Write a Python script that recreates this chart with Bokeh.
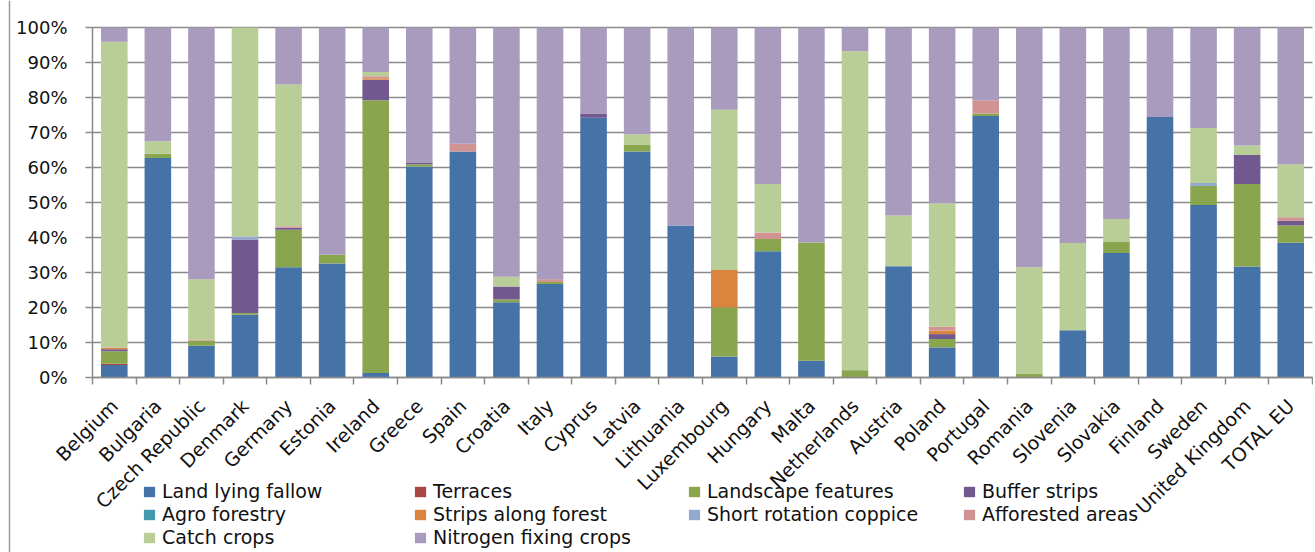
from bokeh.plotting import figure
from bokeh.models import (ColumnDataSource, Legend, LegendItem, FixedTicker, Range1d, Span)
from bokeh.embed import file_html
from bokeh.resources import INLINE

countries = ["Belgium", "Bulgaria", "Czech Republic", "Denmark", "Germany", "Estonia",
             "Ireland", "Greece", "Spain", "Croatia", "Italy", "Cyprus", "Latvia",
             "Lithuania", "Luxembourg", "Hungary", "Malta", "Netherlands", "Austria",
             "Poland", "Portugal", "Romania", "Slovenia", "Slovakia", "Finland",
             "Sweden", "United Kingdom", "TOTAL EU"]

land_lying_fallow = [3.6, 62.7, 9.1, 17.9, 31.5, 32.6, 1.3, 60.3, 64.6, 21.5, 26.7, 74.2, 64.6,
                     43.4, 6.0, 36.1, 4.8, 0.0, 31.8, 8.6, 74.7, 0.0, 13.5, 35.6, 74.4,
                     49.3, 31.7, 38.5]
terraces = [0.3, 0, 0, 0, 0, 0, 0, 0, 0, 0, 0, 0, 0, 0, 0, 0, 0, 0, 0, 0, 0, 0, 0, 0, 0, 0, 0, 0]
landscape_features = [3.6, 1.2, 1.4, 0.5, 10.7, 2.5, 77.9, 0.6, 0, 0.8, 0.6, 0, 2.0, 0, 14.0,
                      3.5, 33.8, 2.1, 0, 2.4, 0.7, 1.1, 0, 3.1, 0, 5.4, 23.6, 4.9]
buffer_strips = [0.6, 0, 0, 21.0, 0.6, 0, 5.9, 0.4, 0, 3.7, 0, 1.2, 0, 0, 0, 0, 0, 0, 0, 1.4,
                 0, 0, 0, 0, 0, 0, 8.3, 1.4]
agro_forestry = [0] * 28
strips_along_forest = [0.3, 0, 0, 0, 0, 0, 0.4, 0, 0, 0, 0, 0, 0, 0, 10.7, 0, 0, 0, 0, 1.0,
                       0, 0, 0, 0, 0, 0, 0, 0]
short_rotation_coppice = [0, 0, 0, 0.9, 0, 0, 0, 0, 0, 0, 0, 0, 0, 0, 0, 0, 0, 0, 0, 0, 0, 0,
                          0, 0, 0, 0.9, 0, 0]
afforested_areas = [0.2, 0, 0.3, 0, 0.4, 0, 0.6, 0, 2.2, 0, 0.8, 0, 0, 0, 0, 1.8, 0, 0, 0, 1.1,
                    3.8, 0, 0, 0, 0, 0, 0, 1.0]
catch_crops = [87.3, 3.6, 17.3, 59.7, 40.5, 0, 1.2, 0, 0, 2.8, 0, 0, 2.9, 0, 45.8, 13.9, 0,
               91.1, 14.5, 35.3, 0, 30.4, 24.9, 6.6, 0, 15.7, 2.7, 15.1]
nitrogen_fixing_crops = [4.1, 32.5, 71.9, 0.0, 16.3, 64.9, 12.7, 38.7, 33.2, 71.2, 71.9, 24.6,
                         30.5, 56.6, 23.5, 44.7, 61.4, 6.8, 53.7, 50.2, 20.8, 68.5, 61.6, 54.7,
                         25.6, 28.7, 33.7, 39.1]

series_names = ["Land lying fallow", "Terraces", "Landscape features", "Buffer strips",
                "Agro forestry", "Strips along forest", "Short rotation coppice",
                "Afforested areas", "Catch crops", "Nitrogen fixing crops"]
series_values = [land_lying_fallow, terraces, landscape_features, buffer_strips, agro_forestry,
                 strips_along_forest, short_rotation_coppice, afforested_areas, catch_crops,
                 nitrogen_fixing_crops]
colors = ["#4572A7", "#AA4643", "#89A54E", "#71588F", "#4198AF", "#DB843D", "#93A9CF",
          "#D19392", "#B9CD96", "#A99BBD"]
y_ticks = list(range(0, 101, 10))
y_tick_labels = [f"{t}%" for t in y_ticks]

n = len(countries)
keys = [f"s{i}" for i in range(len(series_names))]
data = {"x": [i + 0.5 for i in range(n)]}
for k, v in zip(keys, series_values):
    data[k] = v
source = ColumnDataSource(data)

FONT = "DejaVu Sans"
GRID = "#8a8a8a"

# Layout (pixels): the frame fills the whole figure; the value axis spans 350 px for 0..100,
# the category axis 1220 px for the 28 categories, with the axes pinned at x = 0 and y = 0.
FW, FH = 1313, 552
LEFT, TOP, PH, PW = 92, 27, 350, 1220
ppu_x = PW / n
ppu_y = PH / 100
x_range = Range1d(-LEFT / ppu_x, (FW - LEFT) / ppu_x)
y_range = Range1d(-(FH - TOP - PH) / ppu_y, 100 + TOP / ppu_y)

p = figure(output_backend="svg", toolbar_location=None,
           frame_width=FW, frame_height=FH,
           min_border_left=0, min_border_right=0, min_border_top=0, min_border_bottom=0,
           x_range=x_range, y_range=y_range)
p.outline_line_color = None
p.background_fill_color = "white"
p.xgrid.grid_line_color = None
p.ygrid.grid_line_color = None

# horizontal gridlines between the axes only
p.segment(x0=[0] * len(y_ticks), x1=[n] * len(y_ticks), y0=y_ticks, y1=y_ticks,
          line_color=GRID, line_width=1.5, level="underlay")

renderers = p.vbar_stack(keys, x="x", width=0.61, color=colors, line_color=None,
                         source=source)

# x axis: labels at category centres, tick marks between categories, drawn at y = 0
xa = p.xaxis[0]
xa.fixed_location = 0
xa.bounds = (0, n)
xa.ticker = FixedTicker(ticks=[i + 0.5 for i in range(n)], minor_ticks=list(range(n + 1)))
xa.major_label_overrides = {i + 0.5: c for i, c in enumerate(countries)}
xa.major_tick_line_color = None
xa.minor_tick_line_color = GRID
xa.minor_tick_line_width = 1.5
xa.minor_tick_out = 7
xa.minor_tick_in = 0
xa.axis_line_color = GRID
xa.axis_line_width = 1.5
xa.major_label_orientation = 0.785398
xa.major_label_standoff = 18
xa.major_label_text_font = FONT
xa.major_label_text_font_size = "19px"
xa.major_label_text_color = "#111111"

ya = p.yaxis[0]
ya.fixed_location = 0
ya.bounds = (0, 100)
ya.ticker = FixedTicker(ticks=y_ticks)
ya.major_label_overrides = {t: l for t, l in zip(y_ticks, y_tick_labels)}
ya.minor_tick_line_color = None
ya.major_tick_line_color = GRID
ya.major_tick_line_width = 1.5
ya.major_tick_out = 7
ya.major_tick_in = 0
ya.axis_line_color = GRID
ya.axis_line_width = 1.5
ya.major_label_standoff = 18
ya.major_label_text_font = FONT
ya.major_label_text_font_size = "18px"
ya.major_label_text_color = "#111111"

# left edge line of the chart area
p.add_layout(Span(location=9, location_units="screen", dimension="height",
                  line_color="#9a9a9a", line_width=1.5))

items = [LegendItem(label=nm, renderers=[r]) for nm, r in zip(series_names, renderers)]
columns = [[0, 4, 8], [1, 5, 9], [2, 6], [3, 7]]
col_x = [142, 413, 687, 962]
ITEM_H, GAP = 22, 1
for cx, idxs in zip(col_x, columns):
    h = len(idxs) * ITEM_H + (len(idxs) - 1) * GAP
    lg = Legend(items=[items[i] for i in idxs], location=(cx, 72 - h),
                orientation="vertical", padding=0, margin=0, spacing=GAP,
                glyph_width=14, glyph_height=13, label_height=ITEM_H, label_standoff=6,
                label_text_font=FONT, label_text_font_size="19px",
                label_text_color="#111111", label_text_baseline="middle",
                border_line_color=None, background_fill_alpha=0)
    p.add_layout(lg, "center")

open("out.html", "w").write(file_html(p, INLINE))
